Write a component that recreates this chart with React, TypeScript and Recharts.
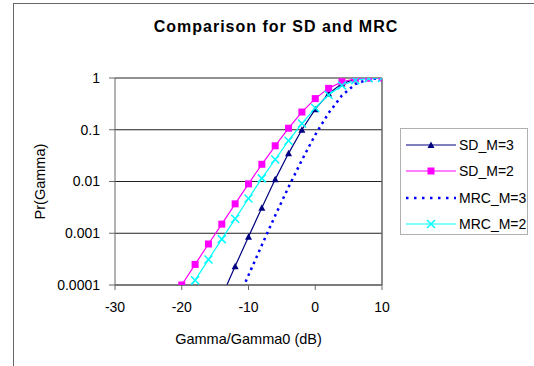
import { CartesianGrid, Line, LineChart, ReferenceLine, XAxis, YAxis } from 'recharts';

// x values (dB) and the four curves
const gammaDb = [-20, -18, -16, -14, -12, -10, -8, -6, -4, -2, 0, 2, 4, 6, 8, 10];
const sdM3 = [null, null, null, 0.00006, 0.00023, 0.00086, 0.0031, 0.011, 0.035, 0.1, 0.25, 0.5, 0.78, 0.945, 0.994, 1];
const sdM2 = [0.0001, 0.00025, 0.00062, 0.0015, 0.0037, 0.009, 0.0215, 0.049, 0.107, 0.22, 0.4, 0.63, 0.845, 0.963, 0.996, 1];
const mrcM3 = [null, null, null, null, 0.00004, 0.000155, 0.00059, 0.0022, 0.0078, 0.026, 0.08, 0.21, 0.46, 0.76, 0.95, 0.997];
const mrcM2 = [0.00005, 0.000124, 0.00031, 0.00077, 0.0019, 0.0047, 0.0115, 0.0266, 0.0615, 0.132, 0.264, 0.471, 0.715, 0.907, 0.987, 0.9995];

const xTicks = [-30, -20, -10, 0, 10];
const yTicks = [0.0001, 0.001, 0.01, 0.1, 1];

type Marker = 'triangle' | 'square' | 'cross' | 'none';

const series: { key: string; name: string; color: string; marker: Marker; dashed?: boolean }[] = [
  { key: 'sd3', name: 'SD_M=3', color: '#000080', marker: 'triangle' },
  { key: 'sd2', name: 'SD_M=2', color: '#ff00ff', marker: 'square' },
  { key: 'mrc3', name: 'MRC_M=3', color: '#0000ff', marker: 'none', dashed: true },
  { key: 'mrc2', name: 'MRC_M=2', color: '#00ffff', marker: 'cross' },
];

const data = gammaDb.map((g, i) => ({
  g,
  sd3: sdM3[i],
  sd2: sdM2[i],
  mrc3: mrcM3[i],
  mrc2: mrcM2[i],
}));

const FONT = 'Arial, "Liberation Sans", sans-serif';

function MarkerShape({ type, cx, cy, color }: { type: Marker; cx: number; cy: number; color: string }) {
  if (type === 'triangle') {
    return <polygon points={`${cx},${cy - 3.5} ${cx + 3.5},${cy + 3} ${cx - 3.5},${cy + 3}`} fill={color} />;
  }
  if (type === 'square') {
    return <rect x={cx - 3.5} y={cy - 3.5} width={7} height={7} fill={color} />;
  }
  if (type === 'cross') {
    return (
      <g stroke={color} strokeWidth={1.5}>
        <line x1={cx - 4} y1={cy - 4} x2={cx + 4} y2={cy + 4} />
        <line x1={cx - 4} y1={cy + 4} x2={cx + 4} y2={cy - 4} />
      </g>
    );
  }
  return null;
}

function makeDot(type: Marker, color: string) {
  return (props: any) => {
    const { cx, cy, value, index } = props;
    if (type === 'none' || cx == null || cy == null || value == null) return <g key={index} />;
    return (
      <g key={index}>
        <MarkerShape type={type} cx={cx} cy={cy} color={color} />
      </g>
    );
  };
}

function LegendBox() {
  return (
    <div
      style={{
        position: 'absolute',
        left: 400,
        top: 128,
        width: 128,
        height: 107,
        border: '1px solid #b0b0b0',
        background: '#fff',
        boxSizing: 'border-box',
        paddingTop: 3,
      }}
    >
      {series.map((s) => (
        <div key={s.key} style={{ display: 'flex', alignItems: 'center', height: 26.3 }}>
          <svg width={52} height={12} style={{ marginLeft: 5, flex: 'none' }}>
            <line
              x1={0}
              y1={6}
              x2={50}
              y2={6}
              stroke={s.color}
              strokeWidth={s.dashed ? 2.5 : 1.2}
              strokeDasharray={s.dashed ? '2.5 5.5' : undefined}
            />
            <MarkerShape type={s.marker} cx={25} cy={6} color={s.color} />
          </svg>
          <span style={{ fontFamily: FONT, fontSize: 14, color: '#000', marginLeft: 1, whiteSpace: 'nowrap' }}>
            {s.name}
          </span>
        </div>
      ))}
    </div>
  );
}

export default function App() {
  return (
    <div style={{ position: 'fixed', left: 0, top: 0, width: 534, height: 366, overflow: 'hidden', background: '#fff' }}>
      <div
        style={{
          position: 'absolute',
          left: 13,
          top: 3,
          width: 700,
          height: 500,
          border: '1.5px solid #666',
          boxSizing: 'border-box',
        }}
      />
      <div
        style={{
          position: 'absolute',
          left: 0,
          top: 18,
          width: 552,
          textAlign: 'center',
          fontFamily: FONT,
          fontWeight: 'bold',
          fontSize: 16,
          letterSpacing: 1,
          color: '#000',
        }}
      >
        Comparison for SD and MRC
      </div>
      <div style={{ position: 'absolute', left: 0, top: 0 }}>
        <LineChart width={534} height={366} data={data} margin={{ top: 78, right: 152, bottom: 22, left: 55 }}>
          <CartesianGrid horizontal vertical={false} stroke="#222" strokeWidth={1} />
          <XAxis
            dataKey="g"
            type="number"
            domain={[-30, 10]}
            ticks={xTicks}
            allowDataOverflow
            height={59}
            stroke="#666"
            tickSize={5}
            tickMargin={12}
            tick={{ fill: '#000', fontSize: 14, fontFamily: FONT }}
            label={{ value: 'Gamma/Gamma0 (dB)', position: 'insideBottom', offset: 0, fill: '#000', fontSize: 14.5, fontFamily: FONT }}
          />
          <YAxis
            type="number"
            scale="log"
            domain={[0.0001, 1]}
            ticks={yTicks}
            allowDataOverflow
            width={60}
            stroke="#666"
            tickSize={6}
            tickMargin={9}
            tickFormatter={(v: number) => String(v)}
            tick={{ fill: '#000', fontSize: 14, fontFamily: FONT }}
            label={{
              value: 'Pr(Gamma)',
              angle: -90,
              position: 'insideLeft',
              offset: -15,
              style: { textAnchor: 'middle' },
              fill: '#000',
              fontSize: 14.5,
              fontFamily: FONT,
            }}
          />
          <ReferenceLine x={10} stroke="#666" strokeWidth={1.5} />
          {series.map((s) => (
            <Line
              key={s.key}
              dataKey={s.key}
              name={s.name}
              type="linear"
              stroke={s.color}
              strokeWidth={s.dashed ? 2.5 : 1.2}
              strokeDasharray={s.dashed ? '2.5 4' : undefined}
              dot={makeDot(s.marker, s.color)}
              activeDot={false}
              isAnimationActive={false}
            />
          ))}
        </LineChart>
      </div>
      <LegendBox />
    </div>
  );
}
